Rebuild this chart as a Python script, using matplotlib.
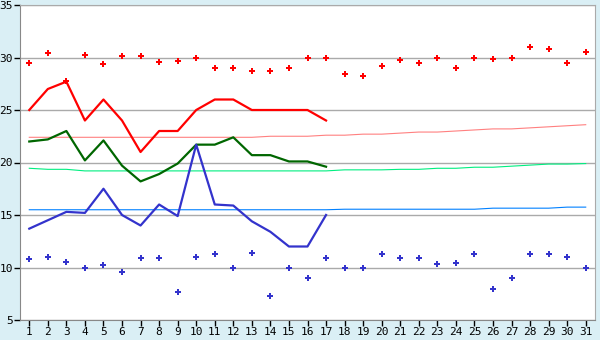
import numpy as np
import matplotlib
matplotlib.use("Agg")
import matplotlib.pyplot as plt

# days of the month
days = list(range(1, 32))

# record highs (red dots) and record lows (blue dots)
rec_max = [29.5, 30.4, 27.8, 30.2, 29.4, 30.1, 30.1, 29.6, 29.7, 30.0,
           29.0, 29.0, 28.7, 28.7, 29.0, 30.0, 30.0, 28.4, 28.2, 29.2,
           29.8, 29.5, 30.0, 29.0, 30.0, 29.9, 30.0, 31.0, 30.8, 29.5, 30.5]
rec_min = [10.8, 11.0, 10.5, 10.0, 10.2, 9.6, 10.9, 10.9, 7.7, 11.0,
           11.3, 10.0, 11.4, 7.3, 10.0, 9.0, 10.9, 10.0, 10.0, 11.3,
           10.9, 10.9, 10.3, 10.4, 11.3, 8.0, 9.0, 11.3, 11.3, 11.0, 10.0]

# observed this month (days 1-17)
obs_days = list(range(1, 18))
t_max = [25.0, 27.0, 27.7, 24.0, 26.0, 24.0, 21.0, 23.0, 23.0, 25.0,
         26.0, 26.0, 25.0, 25.0, 25.0, 25.0, 24.0]
t_mean = [22.0, 22.2, 23.0, 20.2, 22.1, 19.7, 18.2, 18.9, 19.9, 21.7,
          21.7, 22.4, 20.7, 20.7, 20.1, 20.1, 19.6]
t_min = [13.7, 14.5, 15.3, 15.2, 17.5, 15.0, 14.0, 16.0, 14.9, 21.7,
         16.0, 15.9, 14.4, 13.4, 12.0, 12.0, 15.0]

# normals
norm_max = [22.4, 22.4, 22.4, 22.4, 22.4, 22.4, 22.4, 22.4, 22.4, 22.4,
            22.4, 22.4, 22.4, 22.5, 22.5, 22.5, 22.6, 22.6, 22.7, 22.7,
            22.8, 22.9, 22.9, 23.0, 23.1, 23.2, 23.2, 23.3, 23.4, 23.5, 23.6]
norm_mean = [19.45, 19.35, 19.35, 19.2, 19.2, 19.2, 19.2, 19.2, 19.2, 19.2,
             19.2, 19.2, 19.2, 19.2, 19.2, 19.2, 19.2, 19.3, 19.3, 19.3,
             19.35, 19.35, 19.45, 19.45, 19.55, 19.55, 19.65, 19.75, 19.85, 19.85, 19.9]
norm_min = [15.5, 15.5, 15.5, 15.5, 15.5, 15.5, 15.5, 15.5, 15.5, 15.5,
            15.5, 15.5, 15.5, 15.5, 15.5, 15.5, 15.5, 15.55, 15.55, 15.55,
            15.55, 15.55, 15.55, 15.55, 15.55, 15.65, 15.65, 15.65, 15.65, 15.75, 15.75]

bg = "#DAEFF5"
fig = plt.figure(figsize=(6, 3.4), dpi=100, facecolor=bg)
ax = fig.add_axes([20/600, 20/340, 575/600, 315/340])
ax.set_facecolor("white")

ax.set_xlim(0.5, 31.5)
ax.set_ylim(5, 35)
ax.set_yticks(range(5, 36, 5))
ax.set_xticks(days)
ax.grid(axis="y", color="#AAAAAA", lw=1)
ax.set_axisbelow(True)

# normals, thin lines
ax.plot(days, norm_max, color="#FF8080", lw=0.8)
ax.plot(days, norm_mean, color="#00EE80", lw=0.8)
ax.plot(days, norm_min, color="#0080FF", lw=0.8)

# this month
ax.plot(obs_days, t_max, color="#FF0000", lw=1.6)
ax.plot(obs_days, t_mean, color="#006600", lw=1.6)
ax.plot(obs_days, t_min, color="#3333CC", lw=1.6)

# records
ax.plot(days, rec_max, ls="none", marker="P", ms=4.5, color="#FF0000", mew=0)
ax.plot(days, rec_min, ls="none", marker="P", ms=4.5, color="#3333CC", mew=0)

for s in ["top", "right"]:
    ax.spines[s].set_color("#AAAAAA")
for s in ["left", "bottom"]:
    ax.spines[s].set_color("#888888")
ax.tick_params(direction="out", length=4, width=1, color="#000000",
               labelsize=8, pad=1)
for lab in ax.get_xticklabels() + ax.get_yticklabels():
    lab.set_family("DejaVu Sans Mono")

fig.savefig("out.png", dpi=100, facecolor=bg)
